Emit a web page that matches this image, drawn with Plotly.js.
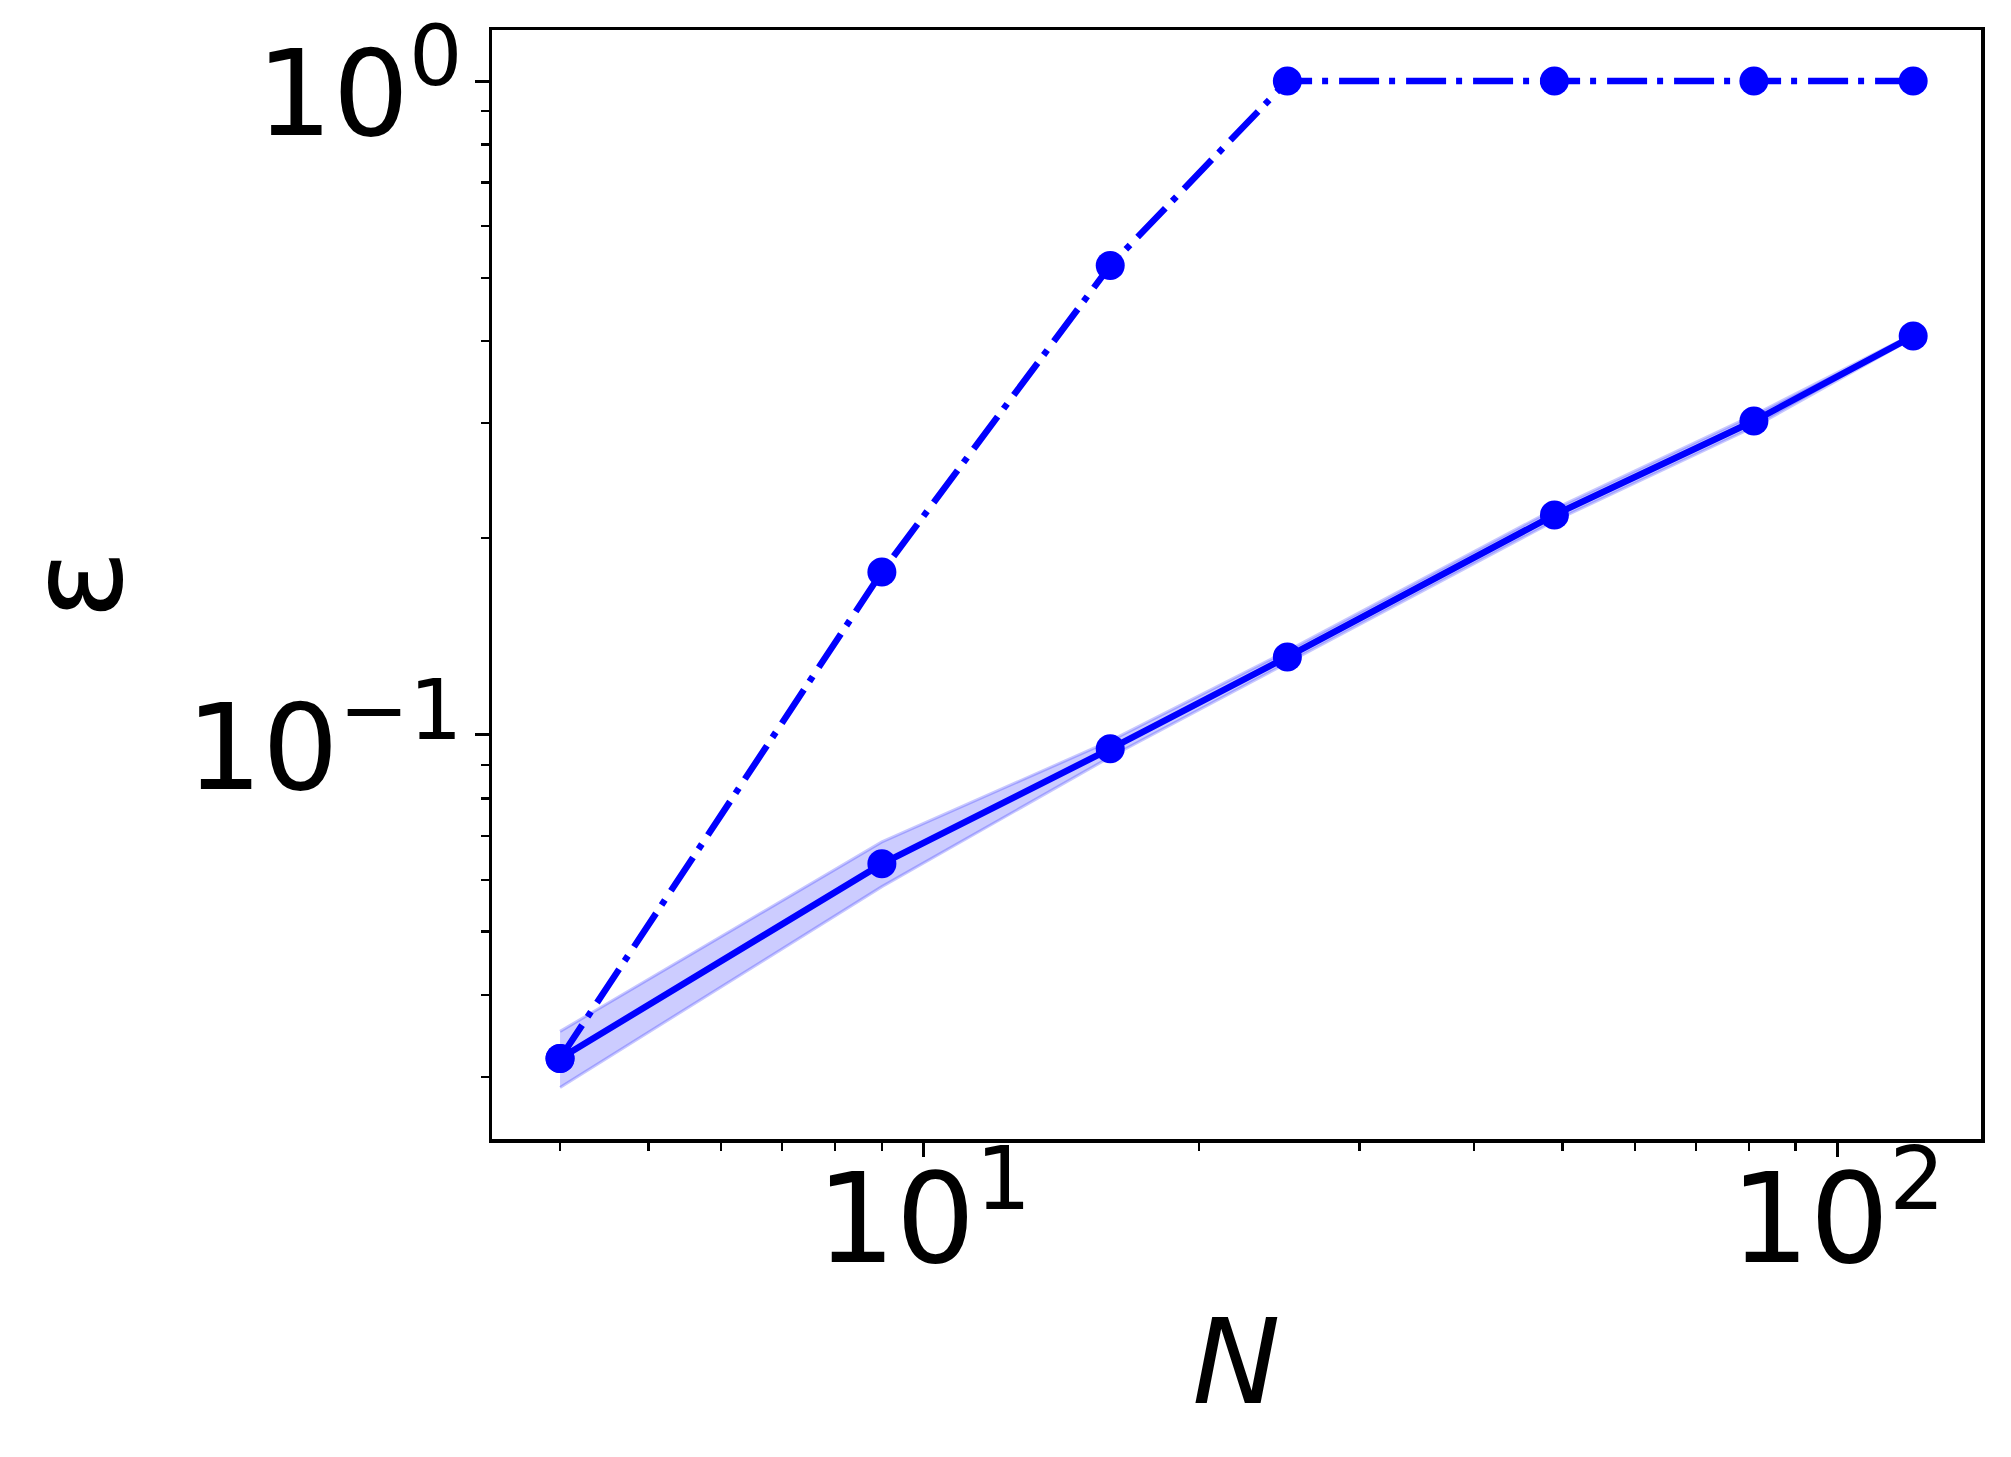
<!DOCTYPE html>
<html>
<head>
<meta charset="utf-8">
<script src="https://cdn.plot.ly/plotly-3.0.1.min.js"></script>
<style>html,body{margin:0;padding:0;background:#fff;}#chart{width:2011px;height:1457px;}</style>
</head>
<body>
<div id="chart"></div>
<script>
const N = [4, 9, 16, 25, 49, 81, 121];
const epsDashDot = [0.0320, 0.1775, 0.522, 1.0, 1.0, 1.0, 1.0];
const epsMean = [0.0320, 0.0635, 0.0952, 0.1316, 0.2170, 0.3020, 0.4074];
const epsUpper = [0.0352, 0.0686, 0.0979, 0.1344, 0.2216, 0.3085, 0.4103];
const epsLower = [0.0289, 0.0586, 0.0925, 0.1288, 0.2124, 0.2957, 0.4046];

const xMajor = [10, 100];
const xMajorText = ['10<sup>1</sup>', '10<sup>2</sup>'];
const xMinor = [4, 5, 6, 7, 8, 9, 20, 30, 40, 50, 60, 70, 80, 90];
const yMajor = [0.1, 1];
const yMajorText = ['10<sup>−1</sup>', '10<sup>0</sup>'];
const yMinor = [0.03, 0.04, 0.05, 0.06, 0.07, 0.08, 0.09, 0.2, 0.3, 0.4, 0.5, 0.6, 0.7, 0.8, 0.9];

const blue = '#0000ff';
const font = 'DejaVu Sans, sans-serif';

const traces = [
  {x: N, y: epsLower, mode: 'lines', line: {color: 'rgba(0,0,255,0.22)', width: 3}, showlegend: false, hoverinfo: 'skip'},
  {x: N, y: epsUpper, mode: 'lines', fill: 'tonexty', fillcolor: 'rgba(0,0,255,0.2)', line: {color: 'rgba(0,0,255,0.22)', width: 3}, showlegend: false, hoverinfo: 'skip'},
  {x: N, y: epsDashDot, mode: 'lines+markers', line: {color: blue, width: 6.5, dash: '40px,10px,6px,11px'}, marker: {color: blue, size: 29}, showlegend: false},
  {x: N, y: epsMean, mode: 'lines+markers', line: {color: blue, width: 6.5}, marker: {color: blue, size: 29}, showlegend: false}
];

const layout = {
  width: 2011, height: 1457,
  margin: {l: 492, r: 30, t: 30, b: 318},
  paper_bgcolor: '#fff', plot_bgcolor: '#fff',
  font: {family: font, color: '#000'},
  showlegend: false,
  xaxis: {
    type: 'log', range: [0.5276, 2.157], autorange: false,
    showgrid: false, zeroline: false,
    showline: true, mirror: true, linecolor: '#000', linewidth: 3.5,
    ticks: 'outside', ticklen: 14, tickwidth: 3, tickcolor: '#000',
    tickmode: 'array', tickvals: xMajor, ticktext: xMajorText,
    tickfont: {family: font, size: 125, color: '#000'},
    ticklabelstandoff: -45, ticklabeloverflow: 'allow',
    minor: {tickmode: 'array', tickvals: xMinor, ticks: 'outside', ticklen: 8, tickwidth: 2.5, tickcolor: '#000', showgrid: false},
    title: {text: '<i>N</i>', font: {family: font, size: 118, color: '#000'}, standoff: 32}
  },
  yaxis: {
    type: 'log', range: [-1.618, 0.078], autorange: false,
    showgrid: false, zeroline: false,
    showline: true, mirror: true, linecolor: '#000', linewidth: 3.5,
    ticks: 'outside', ticklen: 14, tickwidth: 3, tickcolor: '#000',
    tickmode: 'array', tickvals: yMajor, ticktext: yMajorText,
    tickfont: {family: font, size: 120, color: '#000'},
    ticklabelstandoff: -12, ticklabelshift: 12, ticklabeloverflow: 'allow',
    minor: {tickmode: 'array', tickvals: yMinor, ticks: 'outside', ticklen: 8, tickwidth: 2.5, tickcolor: '#000', showgrid: false},
    title: {text: 'ε', font: {family: font, size: 130, color: '#000'}, standoff: 37}
  }
};

Plotly.newPlot('chart', traces, layout, {staticPlot: true, displayModeBar: false});
</script>
</body>
</html>
